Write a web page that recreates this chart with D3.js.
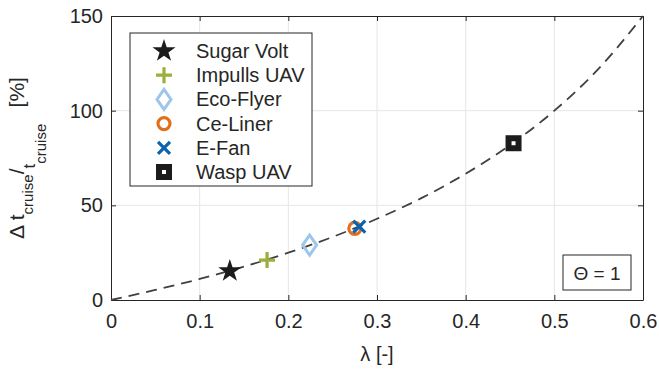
<!DOCTYPE html>
<html>
<head>
<meta charset="utf-8">
<script src="https://cdn.jsdelivr.net/npm/d3@7"></script>
<style>
  body { margin: 0; background: #fff; }
  text { font-family: "Liberation Sans", Arial, sans-serif; fill: #262626; }
</style>
</head>
<body>
<div id="chart"></div>
<script>
// Aircraft data points (lambda, delta t / t in %)
const names = ['Sugar Volt', 'Impulls UAV', 'Eco-Flyer', 'Ce-Liner', 'E-Fan', 'Wasp UAV'];
const lambdas = [0.134, 0.176, 0.224, 0.275, 0.280, 0.454];
const deltas = [15.3, 21.1, 29.0, 37.8, 38.7, 82.8];
const colors = ['#1c1c1c', '#9bb03c', '#9ec5ea', '#e0701e', '#0a64b0', '#1c1c1c'];
const shapes = ['star', 'plus', 'diamond', 'circle', 'cross', 'square'];

// Trend curve
const curveLambda = [0, 0.05, 0.1, 0.15, 0.2, 0.25, 0.3, 0.35, 0.4, 0.45, 0.5, 0.55, 0.6];
const curveDelta = [0, 5.3, 11.1, 17.6, 25, 33.3, 42.9, 53.8, 66.7, 81.8, 100, 122.2, 150];

const xTicks = [0, 0.1, 0.2, 0.3, 0.4, 0.5, 0.6];
const yTicks = [0, 50, 100, 150];

const W = 659, H = 369;
const margin = { top: 16, right: 16, bottom: 69, left: 111 };

const svg = d3.select('#chart').append('svg')
  .attr('width', W).attr('height', H);

const x = d3.scaleLinear().domain([0, 0.6]).range([margin.left, W - margin.right]);
const y = d3.scaleLinear().domain([0, 150]).range([H - margin.bottom, margin.top]);

// Grid
svg.append('g').selectAll('line')
  .data(xTicks.slice(1, -1)).enter().append('line')
  .attr('x1', d => x(d)).attr('x2', d => x(d))
  .attr('y1', y(0)).attr('y2', y(150))
  .style('stroke', '#e6e6e6').style('stroke-width', 1);
svg.append('g').selectAll('line')
  .data(yTicks.slice(1, -1)).enter().append('line')
  .attr('y1', d => y(d)).attr('y2', d => y(d))
  .attr('x1', x(0)).attr('x2', x(0.6))
  .style('stroke', '#e6e6e6').style('stroke-width', 1);

// Axes
const xAxis = d3.axisBottom(x).tickValues(xTicks).tickFormat(d => d === 0 ? '0' : d3.format('.1f')(d))
  .tickSizeInner(-5).tickSizeOuter(0).tickPadding(14);
const yAxis = d3.axisLeft(y).tickValues(yTicks).tickSizeInner(-5).tickSizeOuter(0).tickPadding(8);

const gx = svg.append('g').attr('transform', `translate(0,${y(0)})`).call(xAxis);
const gy = svg.append('g').attr('transform', `translate(${x(0)},0)`).call(yAxis);
[gx, gy].forEach(g => {
  g.select('.domain').style('stroke', '#262626').style('stroke-width', 1);
  g.selectAll('.tick line').style('stroke', '#262626');
  g.selectAll('.tick text').style('font-size', '20px').style('fill', '#262626')
    .style('font-family', '"Liberation Sans", Arial, sans-serif');
});

// Top and right box lines with ticks
const gt = svg.append('g').attr('transform', `translate(0,${y(150)})`)
  .call(d3.axisTop(x).tickValues(xTicks).tickSizeInner(-5).tickSizeOuter(0).tickFormat(''));
const gr = svg.append('g').attr('transform', `translate(${x(0.6)},0)`)
  .call(d3.axisRight(y).tickValues(yTicks).tickSizeInner(-5).tickSizeOuter(0).tickFormat(''));
[gt, gr].forEach(g => {
  g.select('.domain').style('stroke', '#262626');
  g.selectAll('.tick line').style('stroke', '#262626');
});

// Dashed curve
const line = d3.line()
  .x((d, i) => x(curveLambda[i]))
  .y(d => y(d))
  .curve(d3.curveMonotoneX);
svg.append('path')
  .datum(curveDelta)
  .attr('d', line)
  .style('fill', 'none')
  .style('stroke', '#404040')
  .style('stroke-width', 1.8)
  .style('stroke-dasharray', '11,7');

// Marker drawing
function drawMarker(g, shape, color) {
  if (shape === 'star') {
    g.append('path').attr('d', d3.symbol(d3.symbolStar, 165)())
      .style('fill', color);
  } else if (shape === 'plus') {
    g.append('path').attr('d', 'M-8,0H8M0,-8V8')
      .style('stroke', color).style('stroke-width', 3.2).style('fill', 'none');
  } else if (shape === 'diamond') {
    g.append('path').attr('d', 'M0,-10L7,0L0,10L-7,0Z')
      .style('stroke', color).style('stroke-width', 3).style('fill', 'none');
  } else if (shape === 'circle') {
    g.append('circle').attr('r', 6)
      .style('stroke', color).style('stroke-width', 3.2).style('fill', 'none');
  } else if (shape === 'cross') {
    g.append('path').attr('d', 'M-6,-6L6,6M-6,6L6,-6')
      .style('stroke', color).style('stroke-width', 3.2).style('fill', 'none');
  } else if (shape === 'square') {
    g.append('rect').attr('x', -5).attr('y', -5).attr('width', 10).attr('height', 10)
      .style('stroke', color).style('stroke-width', 6).style('fill', '#fff');
  }
}

// Data points
names.forEach((n, i) => {
  const g = svg.append('g').attr('transform', `translate(${x(lambdas[i])},${y(deltas[i])})`);
  drawMarker(g, shapes[i], colors[i]);
});

// Legend
const legend = svg.append('g').attr('transform', 'translate(130,33)');
legend.append('rect').attr('width', 182).attr('height', 153)
  .style('fill', '#fff').style('stroke', '#262626').style('stroke-width', 1);
names.forEach((n, i) => {
  const row = legend.append('g').attr('transform', `translate(34,${18 + i * 24.2})`);
  drawMarker(row, shapes[i], colors[i]);
  row.append('text').attr('x', 32).attr('dy', '0.35em')
    .style('font-size', '20px').text(n);
});

// Theta annotation
const note = svg.append('g').attr('transform', 'translate(563,255)');
note.append('rect').attr('width', 68).attr('height', 35)
  .style('fill', '#fff').style('stroke', '#262626');
note.append('text').attr('x', 34).attr('y', 18).attr('dy', '0.35em')
  .attr('text-anchor', 'middle').style('font-size', '19px').text('\u0398 = 1');

// X label
svg.append('text')
  .attr('x', (x(0) + x(0.6)) / 2).attr('y', 361)
  .attr('text-anchor', 'middle').style('font-size', '20px')
  .text('\u03bb [-]');

// Y label with subscripts
const yl = svg.append('text')
  .attr('transform', `translate(24,${(y(0) + y(150)) / 2}) rotate(-90)`)
  .attr('text-anchor', 'middle').style('font-size', '21px');
yl.append('tspan').text('\u0394 t');
yl.append('tspan').attr('dy', 9).style('font-size', '15px').text('cruise');
yl.append('tspan').attr('dy', -9).text('/');
yl.append('tspan').attr('dy', 11).style('font-size', '17px').text('t');
yl.append('tspan').attr('dy', 11).style('font-size', '15px').text('cruise');
yl.append('tspan').attr('dy', -22).text('\u2002 [%]');
</script>
</body>
</html>
